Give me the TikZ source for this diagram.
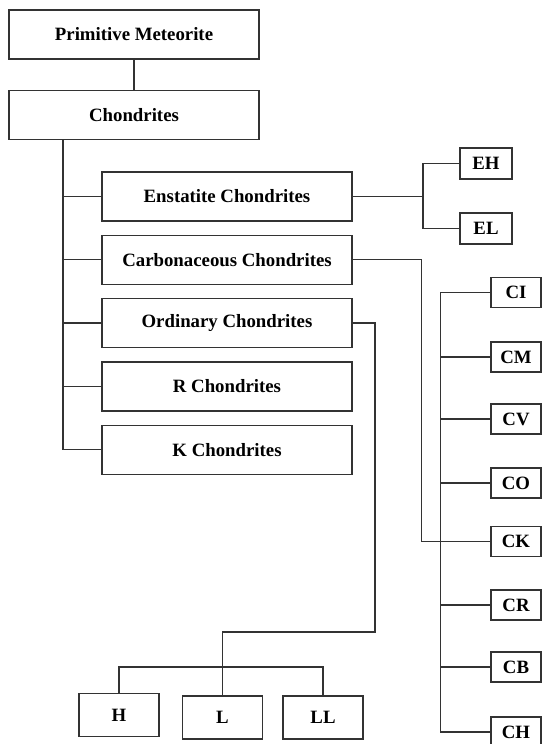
\documentclass[tikz,border=0pt]{standalone}
\usepackage{fontspec}
\setmainfont{Liberation Serif}
\usepackage{tikz}
\usetikzlibrary{positioning}

\begin{document}
\begin{tikzpicture}[
  x=1pt, y=-1pt,
  node distance=13pt,
  box/.style={draw=black!80, line width=1.3pt, fill=white,
              font=\fontsize{18.8}{22}\selectfont\bfseries,
              minimum width=250pt, minimum height=49pt, inner sep=0pt},
  ebox/.style={box, minimum width=52pt, minimum height=31pt},
  cbox/.style={box, minimum width=50pt, minimum height=30pt},
  leafbox/.style={box, minimum width=80pt, minimum height=43pt},
  link/.style={draw=black!80, line width=1.3pt},
]
\clip (0,0) rectangle (542,744);

%% ── Racine ──────────────────────────────────────────────────────────────
\node[box] (prim) at (134,34.5) {Primitive Meteorite};
\node[box, below=30pt of prim] (chond) {Chondrites};

%% ── Groupes de chondrites ───────────────────────────────────────────────
\node[box] (enst) at (227,196.5) {Enstatite Chondrites};
\node[box, below=of enst] (carb) {Carbonaceous Chondrites};
\node[box, below=of carb] (ord)  {Ordinary Chondrites};
\node[box, below=of ord]  (rch)  {R Chondrites};
\node[box, below=of rch]  (kch)  {K Chondrites};

%% ── Enstatite : EH / EL ─────────────────────────────────────────────────
\node[ebox] (EH) at (486,163.5) {EH};
\node[ebox] (EL) at (486,228.5) {EL};

%% ── Carbonées : CI ... CH ───────────────────────────────────────────────
\foreach \n/\y in {CI/292.5, CM/357, CV/419, CO/483, CK/541.5,
                   CR/605, CB/667, CH/732}
  \node[cbox] (\n) at (516,\y) {\n};

%% ── Ordinaires : H / L / LL ─────────────────────────────────────────────
\node[leafbox] (H)  at (119,715)   {H};
\node[leafbox] (L)  at (222.5,717.5) {L};
\node[leafbox] (LL) at (323,717.5) {LL};

%% ── Tronc principal ─────────────────────────────────────────────────────
\draw[link] (prim) -- (chond);
\coordinate (trunk) at ([xshift=-71pt]chond.south);
\draw[link] (trunk) |- (kch.west);
\foreach \b in {enst,carb,ord,rch}
  \draw[link] (\b.west) -- (\b.west -| trunk);

%% ── Branche enstatite ───────────────────────────────────────────────────
\coordinate (ebranch) at (423,0);
\draw[link] (enst.east) -- (enst.east -| ebranch);
\draw[link] (EH.west) -| (ebranch |- EL.west) -- (EL.west);

%% ── Branche carbonée ────────────────────────────────────────────────────
\draw[link] (carb.east) -| ([xshift=-69pt]CK.west) -- (CK.west);
\draw[link] (CI.west) -| ([xshift=-50pt]CH.west) -- (CH.west);
\foreach \n in {CM,CV,CO,CR,CB}
  \draw[link] (\n.west) -- ++(-50,0);

%% ── Branche ordinaire ───────────────────────────────────────────────────
\coordinate (ojoin) at (375,632);
\coordinate (obar) at (0,667);
\draw[link] (ord.east) -| (ojoin) -| (L.north);
\draw[link] (H.north) |- (obar -| LL.north) -- (LL.north);

\end{tikzpicture}
\end{document}
